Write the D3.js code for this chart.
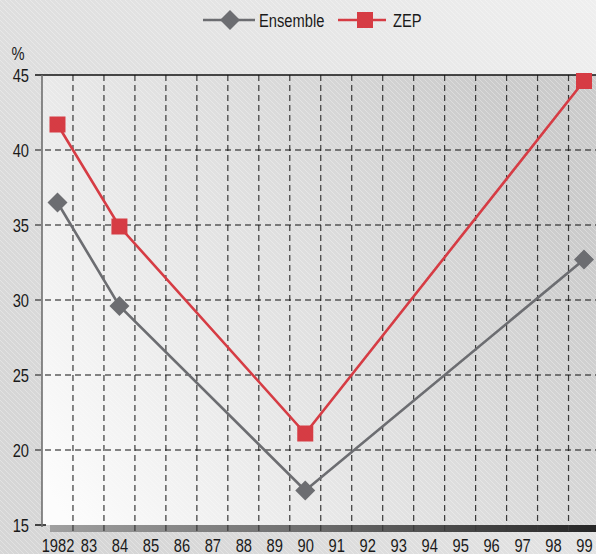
<!DOCTYPE html>
<html>
<head>
<meta charset="utf-8">
<script src="https://cdn.jsdelivr.net/npm/d3@7/dist/d3.min.js"></script>
<style>
  html, body { margin: 0; padding: 0; background: #e2e2e2; }
  svg { display: block; }
  text { font-family: "Liberation Sans", Arial, sans-serif; fill: #1a1a1a; }
</style>
</head>
<body>
<svg id="chart" width="596" height="554"></svg>
<script>
// Years shown on the axis (labels) and the years that carry measurements
const yearTicks = [1982, 1983, 1984, 1985, 1986, 1987, 1988, 1989, 1990, 1991, 1992, 1993, 1994, 1995, 1996, 1997, 1998, 1999];
const yearLabels = ["1982", "83", "84", "85", "86", "87", "88", "89", "90", "91", "92", "93", "94", "95", "96", "97", "98", "99"];
const years = [1982, 1984, 1990, 1999];
const ensembleValues = [36.5, 29.6, 17.3, 32.7];
const zepValues = [41.7, 34.9, 21.1, 44.6];
const yTicks = [15, 20, 25, 30, 35, 40, 45];

(function draw() {
  const W = 596, H = 554;
  const FS = 17.5;          // label font size
  const SQ = "scale(0.84,1)"; // condensed look for the labels
  const svg = d3.select("#chart");
  const defs = svg.append("defs");

  // Page background: soft grey gradient with fine diagonal hatching
  const bg = defs.append("linearGradient").attr("id", "bgGrad")
    .attr("x1", 0).attr("y1", 0.7).attr("x2", 1).attr("y2", 0);
  bg.append("stop").attr("offset", 0).attr("stop-color", "#d6d6d6");
  bg.append("stop").attr("offset", 1).attr("stop-color", "#efefef");

  const hatch = defs.append("pattern").attr("id", "hatch")
    .attr("patternUnits", "userSpaceOnUse").attr("width", 5).attr("height", 5);
  hatch.append("path").attr("d", "M-1,-1 L6,6 M-1,4 L1,6 M4,-1 L6,1")
    .attr("stroke", "#ffffff").attr("stroke-opacity", 0.3).attr("stroke-width", 1);

  const plotGrad = defs.append("linearGradient").attr("id", "plotGrad")
    .attr("x1", 0).attr("y1", 0.9).attr("x2", 1).attr("y2", 0.4);
  plotGrad.append("stop").attr("offset", 0).attr("stop-color", "#fcfcfc");
  plotGrad.append("stop").attr("offset", 0.45).attr("stop-color", "#e4e4e4");
  plotGrad.append("stop").attr("offset", 1).attr("stop-color", "#cbcbcb");

  const floorGrad = defs.append("linearGradient").attr("id", "floorGrad")
    .attr("x1", 0).attr("y1", 0).attr("x2", 1).attr("y2", 0);
  floorGrad.append("stop").attr("offset", 0).attr("stop-color", "#a0a0a0");
  floorGrad.append("stop").attr("offset", 0.5).attr("stop-color", "#6a6a6a");
  floorGrad.append("stop").attr("offset", 1).attr("stop-color", "#262626");

  svg.append("rect").attr("width", W).attr("height", H).attr("fill", "url(#bgGrad)");
  svg.append("rect").attr("width", W).attr("height", H).attr("fill", "url(#hatch)");

  // Scales
  const x = d3.scaleLinear().domain([1981.5, 1999.5]).range([42, 599.5]);
  const y = d3.scaleLinear().domain([15, 45]).range([525, 75]);

  const pLeft = x(1981.5), pRight = W, pTop = y(45), pBottom = y(15);

  // Plot area
  svg.append("rect").attr("x", pLeft).attr("y", pTop).attr("width", pRight - pLeft).attr("height", pBottom - pTop)
    .attr("fill", "url(#plotGrad)");
  svg.append("rect").attr("x", pLeft).attr("y", pTop).attr("width", pRight - pLeft).attr("height", pBottom - pTop)
    .attr("fill", "url(#hatch)");

  // Floor strip under the plot
  svg.append("rect").attr("x", pLeft + 8).attr("y", pBottom).attr("width", pRight - pLeft - 8).attr("height", 7)
    .attr("fill", "url(#floorGrad)");

  // Vertical gridlines between years
  const vGrid = d3.range(1982.5, 1999, 1);
  svg.append("g").selectAll("line").data(vGrid).join("line")
    .attr("x1", d => x(d)).attr("x2", d => x(d))
    .attr("y1", pTop).attr("y2", pBottom + 7)
    .attr("stroke", "#3a3a3a").attr("stroke-width", 1.2)
    .attr("stroke-dasharray", "6,4");

  // Horizontal gridlines
  svg.append("g").selectAll("line").data(yTicks.filter(d => d > 15 && d < 45)).join("line")
    .attr("x1", pLeft - 7).attr("x2", pRight)
    .attr("y1", d => y(d)).attr("y2", d => y(d))
    .attr("stroke", "#111").attr("stroke-width", 1.1)
    .attr("stroke-dasharray", "6,4");

  // Top frame line and bottom tick
  svg.append("line").attr("x1", pLeft - 7).attr("x2", pRight).attr("y1", pTop).attr("y2", pTop)
    .attr("stroke", "#111").attr("stroke-width", 1.5);
  svg.append("line").attr("x1", pLeft - 7).attr("x2", pLeft + 4).attr("y1", pBottom).attr("y2", pBottom)
    .attr("stroke", "#111").attr("stroke-width", 1.5);

  // Left axis line
  svg.append("line").attr("x1", pLeft).attr("x2", pLeft).attr("y1", pTop).attr("y2", pBottom + 2)
    .attr("stroke", "#6f6f6f").attr("stroke-width", 1.6);

  // Y axis labels
  const yAxis = d3.axisLeft(y).tickValues(yTicks).tickSize(0).tickPadding(0);
  const gy = svg.append("g").attr("transform", `translate(${pLeft - 13},0)`).call(yAxis);
  gy.select(".domain").remove();
  gy.selectAll("text").attr("font-size", FS).attr("fill", "#1a1a1a")
    .attr("font-family", "Liberation Sans, Arial, sans-serif")
    .attr("x", 0).attr("dy", "0.36em").attr("transform", SQ);
  svg.append("text").attr("transform", `translate(18,60) ${SQ}`).attr("text-anchor", "middle")
    .attr("font-size", FS).text("%");

  // X axis labels
  const xAxis = d3.axisBottom(x).tickValues(yearTicks).tickSize(0).tickPadding(0)
    .tickFormat((d, i) => yearLabels[i]);
  const gx = svg.append("g").call(xAxis);
  gx.select(".domain").remove();
  gx.selectAll("text").attr("font-size", FS).attr("fill", "#1a1a1a")
    .attr("font-family", "Liberation Sans, Arial, sans-serif")
    .attr("y", 552).attr("dy", 0).attr("transform", SQ);

  // Series
  const ensembleColor = "#6c6d71";
  const zepColor = "#d63c44";

  const ensemble = years.map((yr, i) => ({ yr, v: ensembleValues[i] }));
  const zep = years.map((yr, i) => ({ yr, v: zepValues[i] }));
  const line = d3.line().x(d => x(d.yr)).y(d => y(d.v));

  svg.append("path").datum(ensemble).attr("d", line)
    .attr("fill", "none").attr("stroke", ensembleColor).attr("stroke-width", 2.6);
  svg.append("path").datum(zep).attr("d", line)
    .attr("fill", "none").attr("stroke", zepColor).attr("stroke-width", 2.6);

  const diamond = s => `M0,${-s} L${s},0 L0,${s} L${-s},0 Z`;

  svg.append("g").selectAll("path").data(ensemble).join("path")
    .attr("transform", d => `translate(${x(d.yr)},${y(d.v)})`)
    .attr("d", diamond(10)).attr("fill", ensembleColor);

  svg.append("g").selectAll("rect").data(zep).join("rect")
    .attr("x", d => x(d.yr) - 8).attr("y", d => y(d.v) - 8)
    .attr("width", 16).attr("height", 16).attr("fill", zepColor);

  // Legend
  const lg = svg.append("g");
  lg.append("line").attr("x1", 203).attr("x2", 255).attr("y1", 20).attr("y2", 20)
    .attr("stroke", ensembleColor).attr("stroke-width", 2.6);
  lg.append("path").attr("transform", "translate(230,20)").attr("d", diamond(10)).attr("fill", ensembleColor);
  lg.append("text").attr("transform", `translate(259,27) ${SQ}`).attr("font-size", FS).text("Ensemble");

  lg.append("line").attr("x1", 338).attr("x2", 386).attr("y1", 20).attr("y2", 20)
    .attr("stroke", zepColor).attr("stroke-width", 2.6);
  lg.append("rect").attr("x", 357).attr("y", 12).attr("width", 16).attr("height", 16).attr("fill", zepColor);
  lg.append("text").attr("transform", `translate(393,27) ${SQ}`).attr("font-size", FS).text("ZEP");
})();
</script>
</body>
</html>
